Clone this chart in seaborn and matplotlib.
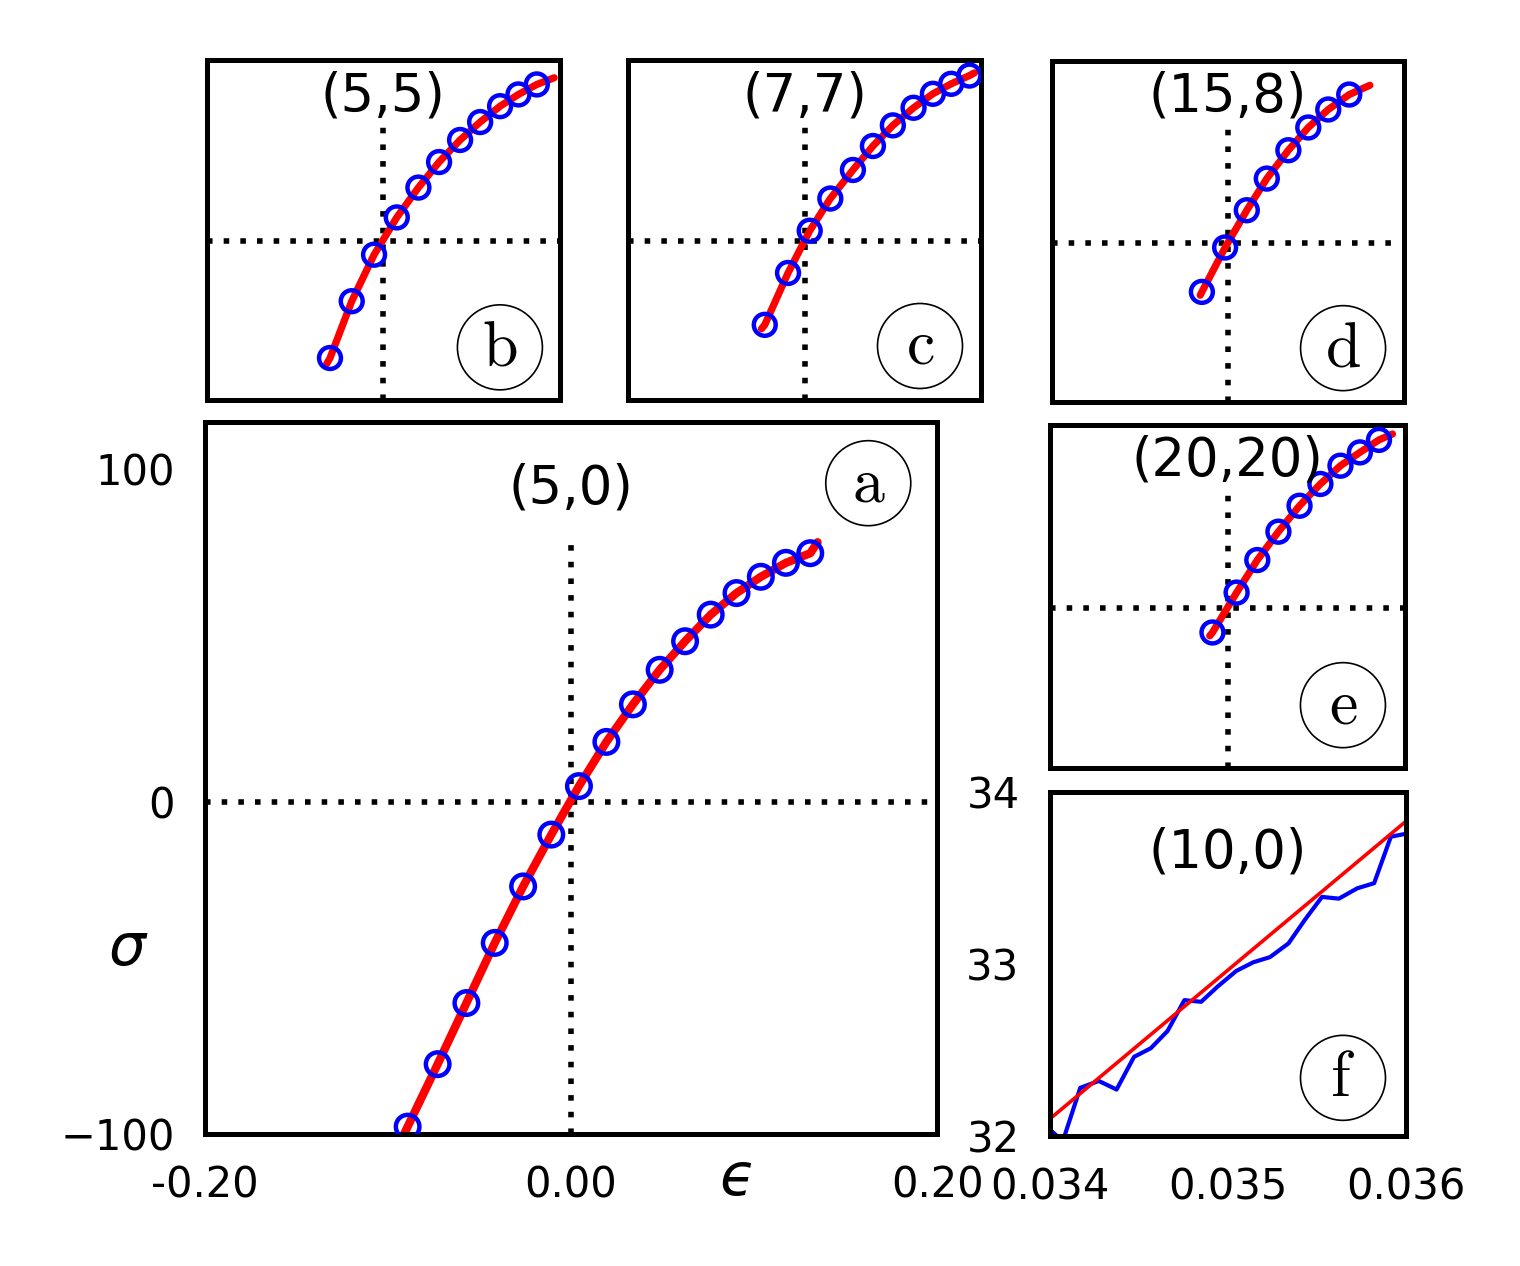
import numpy as np
import pandas as pd
import seaborn as sns
import matplotlib.pyplot as plt

# ---- panel a : (5,0) ----
eps_a = [-0.0893, -0.0729, -0.0572, -0.0417, -0.0262, -0.0108, 0.0043, 0.0193,
         0.0338, 0.0484, 0.0623, 0.0763, 0.0904, 0.1037, 0.1174, 0.1307]
sig_a = [-97.8, -79.0, -60.6, -42.5, -25.5, -9.9, 4.7, 18.0,
         29.3, 39.7, 48.3, 56.3, 62.8, 67.7, 71.9, 74.8]
fit_eps_a = [-0.1085] + eps_a + [0.1347]
fit_sig_a = [-120.0] + sig_a + [78.1]

# ---- panel b : (5,5) ----
eps_b = [-0.0604, -0.0358, -0.0105, 0.0152, 0.0397, 0.0631, 0.0869, 0.1096,
         0.1322, 0.1530, 0.1738]
sig_b = [-73.5, -37.7, -8.4, 15.1, 33.9, 50.0, 63.9, 75.2, 85.2, 92.6, 98.9]
fit_eps_b = [-0.0641] + eps_b + [0.1934]
fit_sig_b = [-77.1] + sig_b + [103.1]

# ---- panel c : (7,7) ----
eps_c = [-0.0453, -0.0189, 0.0057, 0.0291, 0.0547, 0.0774, 0.1000, 0.1235,
         0.1454, 0.1662, 0.1869]
sig_c = [-52.6, -19.9, 6.7, 27.0, 45.0, 60.1, 73.1, 84.2, 93.0, 99.3, 104.5]
fit_eps_c = [-0.0490] + eps_c + [0.1926]
fit_sig_c = [-55.1] + sig_c + [106.2]

# ---- panel d : (15,8) ----
eps_d = [-0.0295, -0.0031, 0.0215, 0.0442, 0.0687, 0.0913, 0.1140, 0.1378]
sig_d = [-31.0, -3.1, 20.3, 40.2, 58.0, 72.3, 83.6, 93.0]
fit_eps_d = [-0.0314] + eps_d + [0.1612]
fit_sig_d = [-33.1] + sig_d + [98.8]

# ---- panel e : (20,20) ----
eps_e = [-0.0170, 0.0102, 0.0335, 0.0573, 0.0811, 0.1046, 0.1272, 0.1491, 0.1706]
sig_e = [-15.2, 9.7, 30.0, 47.7, 63.9, 77.5, 88.9, 97.2, 105.0]
fit_eps_e = [-0.0201] + eps_e + [0.1858]
fit_sig_e = [-17.3] + sig_e + [108.7]

# ---- panel f : (10,0) zoom ----
eps_f = [0.033974, 0.034072, 0.034170, 0.034274, 0.034374, 0.034472, 0.034566,
         0.034660, 0.034755, 0.034849, 0.034943, 0.035047, 0.035142, 0.035236,
         0.035340, 0.035434, 0.035528, 0.035623, 0.035726, 0.035821, 0.035915,
         0.036013]
sig_f = [32.06, 31.97, 32.28, 32.32, 32.27, 32.46, 32.51, 32.61, 32.79, 32.78,
         32.87, 32.96, 33.01, 33.04, 33.12, 33.26, 33.39, 33.38, 33.44, 33.47,
         33.74, 33.76]
lin_eps_f = [0.0340, 0.0360]
lin_sig_f = [32.10, 33.83]

x_ticks_a = [-0.2, 0.0, 0.2]
x_ticklabels_a = ['-0.20', '0.00', '0.20']
y_ticks_a = [-100, 0, 100]
x_ticks_f = [0.034, 0.035, 0.036]
x_ticklabels_f = ['0.034', '0.035', '0.036']
y_ticks_f = [32, 33, 34]

sns.set_theme(style='white')
plt.rcParams['font.family'] = ['DejaVu Sans']
plt.rcParams['text.color'] = 'black'
plt.rcParams['axes.labelcolor'] = 'black'
plt.rcParams['axes.edgecolor'] = 'black'
plt.rcParams['axes.linewidth'] = 1.8

fig = plt.figure(figsize=(7.6, 6.33), dpi=200)

XLIM = (-0.2, 0.2)
YLIM = (-100, 114.3)


def circled(ax, letter, x, y):
    ax.text(x, y, r'$\mathrm{%s}$' % letter, transform=ax.transAxes,
            ha='center', va='center', fontsize=23, math_fontfamily='cm',
            bbox=dict(boxstyle='circle,pad=0.18', fc='white', ec='black', lw=0.6),
            zorder=5)


def curve_panel(rect, eps, sig, fit_eps, fit_sig, title, title_y, letter,
                letter_xy, vtop, lw_fit, msize):
    ax = fig.add_axes(rect)
    ax.axhline(0, color='black', lw=2, ls=(0, (1, 2)), zorder=1)
    ax.vlines(0, YLIM[0], vtop, color='black', lw=2, ls=(0, (1, 2)), zorder=1)
    sns.lineplot(x=fit_eps, y=fit_sig, sort=False, estimator=None, color='red',
                 lw=lw_fit, ax=ax, zorder=2)
    sns.scatterplot(x=eps, y=sig, s=msize, facecolor='none', edgecolor='blue',
                    linewidth=1.6, ax=ax, zorder=3, clip_on=True)
    ax.set_xlim(*XLIM)
    ax.set_ylim(*YLIM)
    ax.text(0.5, title_y, title, transform=ax.transAxes, ha='center',
            va='center', fontsize=19, color='black')
    circled(ax, letter, *letter_xy)
    for s in ax.spines.values():
        s.set_linewidth(1.8)
        s.set_color('black')
    return ax


# main panel a
ax_a = curve_panel([0.1349, 0.1043, 0.4816, 0.5624], eps_a, sig_a, fit_eps_a,
                   fit_sig_a, '(5,0)', 0.907, 'a', (0.906, 0.914), 77.5, 3.0, 72)
ax_a.set_xticks(x_ticks_a)
ax_a.set_xticklabels(x_ticklabels_a)
ax_a.set_yticks(y_ticks_a)
ax_a.tick_params(direction='in', length=10, width=1.8, pad=11, labelsize=15,
                 color='black', labelcolor='black')
ax_a.set_ylabel(r'$\sigma$', rotation=0, fontsize=21, ha='center', va='center')
ax_a.yaxis.set_label_coords(-0.105, 0.261)
ax_a.set_xlabel('$\u03f5$', fontsize=21, ha='center', va='center')
ax_a.xaxis.set_label_coords(0.725, -0.062)

# small panels
insets = [
    ([0.1360, 0.6840, 0.2324, 0.2686], eps_b, sig_b, fit_eps_b, fit_sig_b,
     '(5,5)', 0.892, 'b', (0.830, 0.155)),
    ([0.4134, 0.6840, 0.2320, 0.2686], eps_c, sig_c, fit_eps_c, fit_sig_c,
     '(7,7)', 0.892, 'c', (0.827, 0.159)),
    ([0.6919, 0.6827, 0.2318, 0.2694], eps_d, sig_d, fit_eps_d, fit_sig_d,
     '(15,8)', 0.894, 'd', (0.827, 0.157)),
    ([0.6908, 0.3931, 0.2336, 0.2712], eps_e, sig_e, fit_eps_e, fit_sig_e,
     '(20,20)', 0.896, 'e', (0.825, 0.184)),
]
for rect, ex, sy, fx, fy, title, ty, letter, lxy in insets:
    ax = curve_panel(rect, ex, sy, fx, fy, title, ty, letter, lxy, 75, 2.6, 62)
    ax.set_xticks([])
    ax.set_yticks([])
    ax.set_xlabel('')
    ax.set_ylabel('')

# panel f
ax_f = fig.add_axes([0.6908, 0.1027, 0.2342, 0.2717])
sns.lineplot(x=eps_f, y=sig_f, sort=False, estimator=None, color='blue', lw=1.5,
             ax=ax_f)
sns.lineplot(x=lin_eps_f, y=lin_sig_f, sort=False, estimator=None, color='red',
             lw=1.3, ax=ax_f)
ax_f.set_xlim(0.034, 0.036)
ax_f.set_ylim(32, 34)
ax_f.set_xticks(x_ticks_f)
ax_f.set_xticklabels(x_ticklabels_f)
ax_f.set_yticks(y_ticks_f)
ax_f.set_yticklabels([str(v) for v in y_ticks_f])
ax_f.tick_params(direction='in', length=10, width=1.8, pad=11, labelsize=15,
                 color='black', labelcolor='black')
ax_f.text(0.5, 0.823, '(10,0)', transform=ax_f.transAxes, ha='center',
          va='center', fontsize=19, color='black')
circled(ax_f, 'f', 0.823, 0.169)
for s in ax_f.spines.values():
    s.set_linewidth(1.8)
    s.set_color('black')

fig.savefig('out.png', dpi=200)
